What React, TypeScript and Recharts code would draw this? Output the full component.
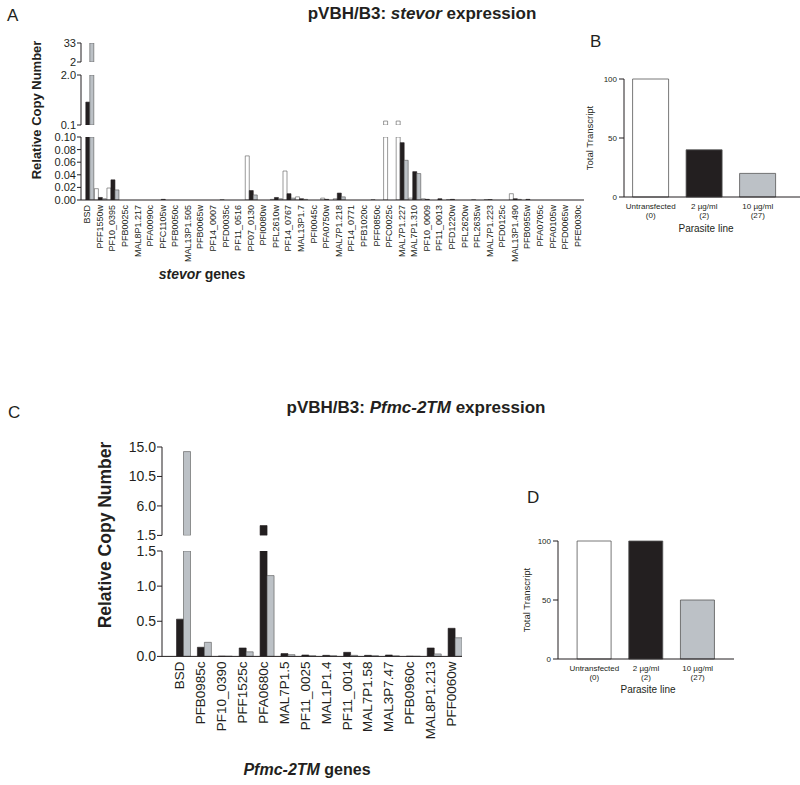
import React from "react";
import { BarChart, Bar, XAxis, YAxis, Cell } from "recharts";

const FONT = "Arial, 'Liberation Sans', Helvetica, sans-serif";
const INK = "#231f20";
const WHITE = "#ffffff";
const BLACK = "#231f20";
const GREY = "#bcc1c6";
const EDGE = "#555555";

// panel A: stevor genes
const stevorGenes = [
  "BSD", "PFF1550w", "PF10_0395", "PFB0025c", "MAL8P1.217", "PFA0090c", "PFC1105w", "PFB0050c",
  "MAL13P1.505", "PFB0065w", "PF14_0007", "PFD0035c", "PF11_0516", "PF07_0130", "PFI0080w",
  "PFL2610w", "PF14_0767", "MAL13P1.7", "PFI0045c", "PFA0750w", "MAL7P1.218", "PF14_0771",
  "PFB1020c", "PFF0850c", "PFC0025c", "MAL7P1.227", "MAL7P1.310", "PF10_0009", "PF11_0013",
  "PFD1220w", "PFL2620w", "PFL2635w", "MAL7P1.223", "PFD0125c", "MAL13P1.490", "PFB0955w",
  "PFA0705c", "PFA0105w", "PFD0065w", "PFE0030c",
];
const stevorUntransfected = [
  0, 0.018, 0.019, 0, 0, 0, 0, 0, 0, 0, 0, 0.0005, 0, 0.07, 0,
  0.001, 0.046, 0.005, 0, 0.003, 0.002, 0, 0, 0.0005, 0.25, 0.25, 0.003, 0.002, 0,
  0.0005, 0, 0.0005, 0.0005, 0, 0.01, 0, 0, 0, 0, 0,
];
const stevor2ug = [
  0.97, 0.004, 0.032, 0, 0, 0, 0.001, 0, 0, 0, 0, 0, 0, 0.015, 0,
  0.004, 0.01, 0.002, 0, 0.001, 0.011, 0, 0, 0, 0, 0.091, 0.045, 0.001, 0.002,
  0.001, 0, 0, 0.0005, 0, 0.002, 0.001, 0, 0, 0, 0,
];
const stevor10ug = [
  33, 0.002, 0.016, 0, 0, 0, 0, 0, 0, 0, 0, 0, 0, 0.008, 0,
  0.002, 0.003, 0.001, 0, 0, 0.005, 0, 0, 0, 0, 0.063, 0.042, 0, 0,
  0, 0, 0, 0, 0, 0.001, 0, 0, 0, 0, 0,
];

// panel C: Pfmc-2TM genes
const pfmcGenes = [
  "BSD", "PFB0985c", "PF10_0390", "PFF1525c", "PFA0680c", "MAL7P1.5", "PF11_0025",
  "MAL1P1.4", "PF11_0014", "MAL7P1.58", "MAL3P7.47", "PFB0960c", "MAL8P1.213", "PFF0060w",
];
const pfmcUntransfected = [0, 0, 0, 0, 0, 0, 0, 0, 0, 0, 0, 0, 0, 0];
const pfmc2ug = [0.53, 0.13, 0.004, 0.12, 3.0, 0.04, 0.02, 0.015, 0.058, 0.015, 0.02, 0.003, 0.12, 0.4];
const pfmc10ug = [14.3, 0.2, 0.003, 0.065, 1.15, 0.025, 0.01, 0.01, 0.015, 0.01, 0.008, 0.002, 0.035, 0.265];

// panels B and D
const lines = ["Untransfected", "2 \u00b5g/ml", "10 \u00b5g/ml"];
const lineClones = ["(0)", "(2)", "(27)"];
const stevorTotal = [100, 40, 20];
const pfmcTotal = [100, 100, 50];
const lineFills = [WHITE, BLACK, GREY];

// cut a series to one segment of a broken axis
const cut = (arr: number[], lo: number, hi: number, bottom: boolean) =>
  arr.map((v) => (bottom || v > lo ? Math.min(v, hi) : null));

const rows = (genes: string[], w: number[], b: number[], g: number[], lo: number, hi: number, bottom: boolean) => {
  const cw = cut(w, lo, hi, bottom);
  const cb = cut(b, lo, hi, bottom);
  const cg = cut(g, lo, hi, bottom);
  return genes.map((gene, i) => ({ gene, w: cw[i], b: cb[i], g: cg[i] }));
};

const GeneTick = (props: any) => {
  const { x, y, payload, fs } = props;
  return (
    <text x={x} y={y} transform={`rotate(-90, ${x}, ${y})`} textAnchor="end" dominantBaseline="central"
      fontSize={fs} fill={INK} fontFamily={FONT}>
      {payload.value}
    </text>
  );
};

const LineTick = (props: any) => {
  const { x, y, payload, index } = props;
  return (
    <text x={x} y={y} textAnchor="middle" fontSize={8} fill={INK} fontFamily={FONT}>
      <tspan x={x} dy="0.75em">{payload.value}</tspan>
      <tspan x={x} dy="1.15em">{lineClones[index]}</tspan>
    </text>
  );
};

const PAD = 10;

type SegProps = {
  x: number; top: number; w: number; plotH: number;
  data: any[]; domain: [number, number]; ticks: number[];
  fmt: (v: number) => string;
  yW: number; yFont: number; tickSize: number;
  xH?: number; tickFont?: number; padL?: number;
  catGap: number;
};

// top = pixel row of the segment's upper value
function Segment(p: SegProps) {
  const showX = !!p.xH;
  const h = PAD + p.plotH + (showX ? p.xH! : PAD);
  return (
    <div style={{ position: "absolute", left: p.x, top: p.top - PAD }}>
      <BarChart width={p.w} height={h} data={p.data}
        margin={{ top: PAD, right: 0, bottom: showX ? 0 : PAD, left: 0 }}
        barCategoryGap={p.catGap} barGap={0}>
        <XAxis dataKey="gene" hide={!showX} height={p.xH || 0} interval={0}
          tickLine={false} tickSize={0} tickMargin={5}
          tick={(t: any) => <GeneTick {...t} fs={p.tickFont} />}
          axisLine={{ stroke: INK }} padding={{ left: p.padL || 0, right: 0 }} />
        <YAxis type="number" domain={p.domain} ticks={p.ticks} allowDataOverflow interval={0}
          tickFormatter={p.fmt} width={p.yW} tickSize={p.tickSize} tickMargin={1}
          tick={{ fontSize: p.yFont, fill: INK, fontFamily: FONT }}
          axisLine={{ stroke: INK }} tickLine={{ stroke: INK }} />
        <Bar dataKey="w" fill={WHITE} stroke={EDGE} strokeWidth={0.6} isAnimationActive={false} />
        <Bar dataKey="b" fill={BLACK} stroke={BLACK} strokeWidth={0.6} isAnimationActive={false} />
        <Bar dataKey="g" fill={GREY} stroke={EDGE} strokeWidth={0.6} isAnimationActive={false} />
      </BarChart>
    </div>
  );
}

function TotalChart({ x, y, values, padL, padR }: { x: number; y: number; values: number[]; padL: number; padR: number }) {
  const data = lines.map((name, i) => ({ name, value: values[i] }));
  return (
    <div style={{ position: "absolute", left: x, top: y }}>
      <BarChart width={240} height={164} data={data} margin={{ top: 6, right: 0, bottom: 0, left: 0 }}
        barCategoryGap={8.6}>
        <XAxis dataKey="name" interval={0} height={40} tickLine={false} tickSize={0} tickMargin={6}
          tick={<LineTick />} axisLine={{ stroke: INK }} padding={{ left: padL, right: padR }} />
        <YAxis type="number" domain={[0, 100]} ticks={[0, 50, 100]} width={64} tickSize={5} tickMargin={2}
          tick={{ fontSize: 8, fill: INK, fontFamily: FONT }} axisLine={{ stroke: INK }} tickLine={{ stroke: INK }} />
        <Bar dataKey="value" stroke={EDGE} strokeWidth={0.8} isAnimationActive={false}>
          {data.map((d, i) => <Cell key={d.name} fill={lineFills[i]} />)}
        </Bar>
      </BarChart>
    </div>
  );
}

export default function App() {
  const f2 = (v: number) => v.toFixed(2);
  const f1 = (v: number) => v.toFixed(1);
  const aTop = rows(stevorGenes, stevorUntransfected, stevor2ug, stevor10ug, 2, 33, false);
  const aMid = rows(stevorGenes, stevorUntransfected, stevor2ug, stevor10ug, 0.1, 2, false);
  const aBot = rows(stevorGenes, stevorUntransfected, stevor2ug, stevor10ug, 0, 0.1, true);
  const cTop = rows(pfmcGenes, pfmcUntransfected, pfmc2ug, pfmc10ug, 1.5, 15, false);
  const cBot = rows(pfmcGenes, pfmcUntransfected, pfmc2ug, pfmc10ug, 0, 1.5, true);
  return (
    <div style={{ position: "absolute", left: 0, top: 0, width: 800, height: 785, background: "#fff", fontFamily: FONT, overflow: "hidden" }}>
      {/* A: broken axis, three segments */}
      <Segment x={0} top={43} w={584} plotH={19} data={aTop}
        domain={[2, 33]} ticks={[2, 33]} fmt={(v) => String(v)} yW={81} yFont={11} tickSize={4} catGap={0.8} />
      <Segment x={0} top={75} w={584} plotH={50} data={aMid}
        domain={[0.1, 2]} ticks={[0.1, 2]} fmt={f1} yW={81} yFont={11} tickSize={4} catGap={0.8} />
      <Segment x={0} top={137} w={584} plotH={63} data={aBot}
        domain={[0, 0.1]} ticks={[0, 0.02, 0.04, 0.06, 0.08, 0.1]} fmt={f2} yW={81} yFont={11} tickSize={4}
        xH={75} tickFont={9} catGap={0.8} />

      {/* C: broken axis, two segments */}
      <Segment x={0} top={447.3} w={462} plotH={88.4} data={cTop}
        domain={[1.5, 15]} ticks={[1.5, 6, 10.5, 15]} fmt={f1} yW={162} yFont={14} tickSize={5} padL={7.5} catGap={0} />
      <Segment x={0} top={551.3} w={462} plotH={105.4} data={cBot}
        domain={[0, 1.5]} ticks={[0, 0.5, 1, 1.5]} fmt={f1} yW={162} yFont={14} tickSize={5} padL={7.5}
        xH={90} tickFont={13.5} catGap={0} />

      {/* B and D */}
      <TotalChart x={560} y={73} values={stevorTotal} padL={0} padR={15.5} />
      <TotalChart x={494} y={535} values={pfmcTotal} padL={10.5} padR={10.5} />

      <svg width={800} height={785} style={{ position: "absolute", left: 0, top: 0, pointerEvents: "none" }} fontFamily={FONT} fill={INK}>
        <text x={7} y={21} fontSize={17}>A</text>
        <text x={422} y={19} fontSize={17} fontWeight="bold" textAnchor="middle">
          pVBH/B3: <tspan fontStyle="italic">stevor</tspan> expression
        </text>
        <text x={36} y={110} fontSize={13} fontWeight="bold" textAnchor="middle" dominantBaseline="central"
          transform="rotate(-90, 36, 110)">Relative Copy Number</text>
        <text x={202} y={279} fontSize={14} fontWeight="bold" textAnchor="middle">
          <tspan fontStyle="italic">stevor</tspan> genes
        </text>

        <text x={590} y={47} fontSize={17}>B</text>
        <text x={589} y={138} fontSize={9.5} textAnchor="middle" dominantBaseline="central"
          transform="rotate(-90, 589, 138)">Total Transcript</text>
        <text x={706} y={232} fontSize={10} textAnchor="middle">Parasite line</text>

        <text x={8} y={418} fontSize={17}>C</text>
        <text x={416} y={413} fontSize={17} fontWeight="bold" textAnchor="middle">
          pVBH/B3: <tspan fontStyle="italic">Pfmc-2TM</tspan> expression
        </text>
        <text x={105} y={535} fontSize={17.5} fontWeight="bold" textAnchor="middle" dominantBaseline="central"
          transform="rotate(-90, 105, 535)">Relative Copy Number</text>
        <text x={307} y={775} fontSize={16} fontWeight="bold" textAnchor="middle">
          <tspan fontStyle="italic">Pfmc-2TM</tspan> genes
        </text>

        <text x={527} y={503} fontSize={17}>D</text>
        <text x={526} y={600} fontSize={9.5} textAnchor="middle" dominantBaseline="central"
          transform="rotate(-90, 526, 600)">Total Transcript</text>
        <text x={648} y={693} fontSize={10} textAnchor="middle">Parasite line</text>
      </svg>
    </div>
  );
}
